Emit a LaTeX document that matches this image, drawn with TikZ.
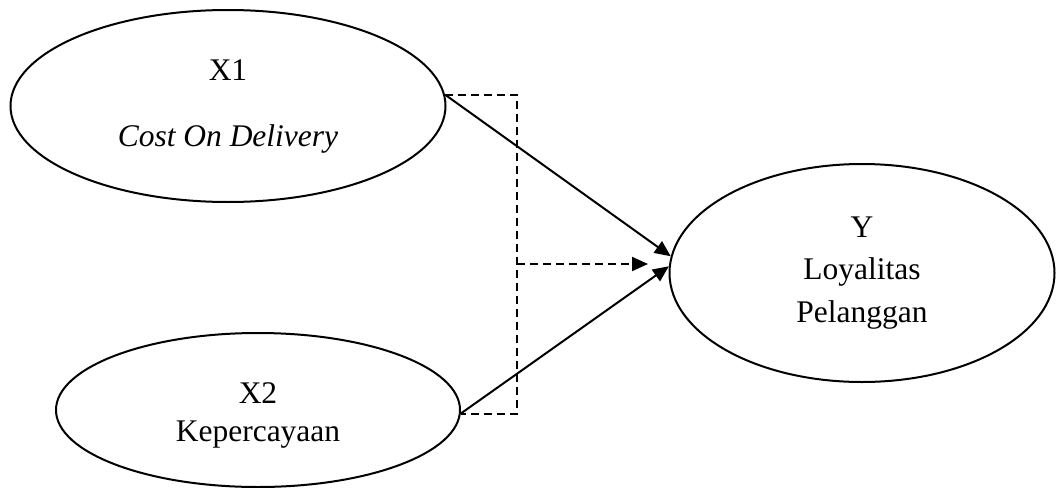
\documentclass[tikz,border=0pt]{standalone}
\usepackage{fontspec}
\setmainfont{Liberation Serif}
\usetikzlibrary{shapes.geometric,arrows.meta}
\begin{document}
\begin{tikzpicture}[x=1pt,y=-1pt,
  latent/.style={ellipse,draw,line width=2pt,inner sep=0pt,align=center,
    font=\fontsize{31.5}{38}\selectfont},
  head/.style={-{Triangle[length=16pt,width=14pt]}},
  path/.style={line width=2pt,head},
  bracket/.style={line width=2pt,dash pattern=on 8pt off 5pt}]
\useasboundingbox (0,0) rectangle (1056,487);
% constructs
\node[latent,minimum width=435pt,minimum height=192pt] (x1) at (228,106)
  {X1\\[28pt]\textit{Cost On Delivery}};
\node[latent,minimum width=404pt,minimum height=154pt] (x2) at (258,410)
  {\rule{0pt}{32pt}X2\\Kepercayaan};
\node[latent,minimum width=385pt,minimum height=218pt] (y) at (862,273)
  {Y\\[4.5pt]Loyalitas\\[4.5pt]Pelanggan};
% junction of the joint effect and its arrow tip
\coordinate (bm) at (517,264);
\coordinate (dtip) at (648,264);
% direct effects
\draw[path] (x1.3.5) -- (y.175.6);
\draw[path] (x2.-1) -- (y.178.5);
% joint effect
\draw[bracket] (x1.3.5) -| (bm) |- (x2.-1);
\draw[bracket,head] (bm) -- (dtip);
\end{tikzpicture}
\end{document}
